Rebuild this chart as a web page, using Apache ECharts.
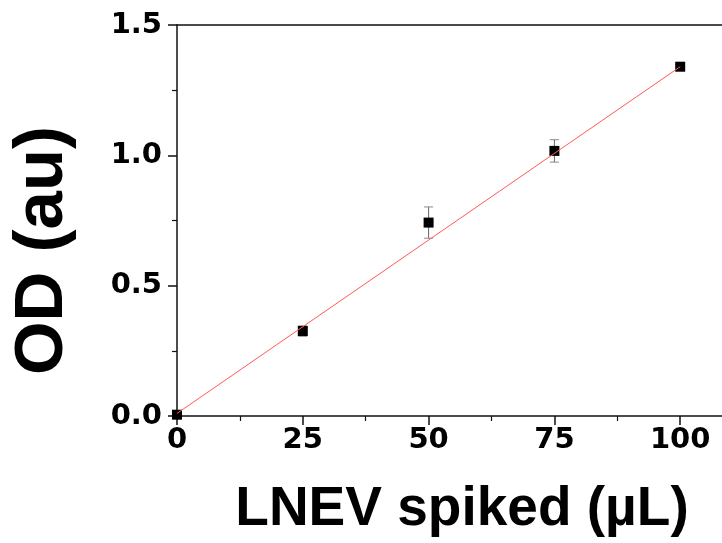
<!DOCTYPE html>
<html>
<head>
<meta charset="utf-8">
<script src="https://cdn.jsdelivr.net/npm/echarts@6/dist/echarts.min.js"></script>
<style>
  html, body { margin: 0; padding: 0; background: #fff; }
  #chart { width: 722px; height: 543px; }
</style>
</head>
<body>
<div id="chart"></div>
<script>
// spiked volume (uL) and measured OD
const volumes = [0, 25, 50, 75, 100]
const odMeans = [0.005, 0.326, 0.742, 1.017, 1.340]
const odErrors = [0, 0.02, 0.06, 0.043, 0.008]

// linear fit drawn across the data range
const fitX = [0, 100]
const fitY = [0.01, 1.34]

const xTitle = 'LNEV spiked (µL)'
const yTitle = 'OD (au)'

const chart = echarts.init(document.getElementById('chart'), null, { renderer: 'canvas' })

const axisColor = '#111'
const tickFont = {
  fontFamily: 'DejaVu Sans',
  fontWeight: 'bold',
  fontSize: 29,
  color: '#000'
}

// the frame runs past the right edge of the picture, up to 125
const option = {
  animation: false,
  backgroundColor: '#fff',
  grid: {
    left: 177,
    top: 25,
    bottom: 127,
    right: -84,
    outerBoundsMode: 'none',
    containLabel: false
  },
  xAxis: [
    {
      type: 'value',
      position: 'bottom',
      min: 0,
      max: 125,
      interval: 25,
      name: xTitle,
      nameLocation: 'middle',
      nameGap: 66,
      nameTextStyle: {
        fontFamily: 'Liberation Sans',
        fontWeight: 'bold',
        fontSize: 55,
        color: '#000',
        padding: [0, 59, 0, 0]
      },
      axisLine: { show: true, onZero: false, lineStyle: { color: axisColor, width: 1.5 } },
      axisTick: { show: true, inside: false, length: 9, lineStyle: { color: axisColor, width: 1.5 } },
      minorTick: { show: true, splitNumber: 2, length: 5, lineStyle: { color: axisColor, width: 1.2 } },
      splitLine: { show: false },
      axisLabel: { ...tickFont, margin: 10 }
    },
    {
      // top frame line
      type: 'value',
      position: 'top',
      min: 0,
      max: 125,
      axisLine: { show: true, onZero: false, lineStyle: { color: axisColor, width: 1.5 } },
      axisTick: { show: false },
      axisLabel: { show: false },
      splitLine: { show: false }
    }
  ],
  yAxis: {
    type: 'value',
    min: 0,
    max: 1.5,
    interval: 0.5,
    name: yTitle,
    nameLocation: 'middle',
    nameRotate: 90,
    nameGap: 100,
    nameTextStyle: {
      fontFamily: 'Liberation Sans',
      fontWeight: 'bold',
      fontSize: 69,
      color: '#000',
      padding: [0, 60, 0, 0]
    },
    axisLine: { show: true, onZero: false, lineStyle: { color: axisColor, width: 1.5 } },
    axisTick: { show: true, inside: false, length: 9, lineStyle: { color: axisColor, width: 1.5 } },
    minorTick: { show: true, splitNumber: 2, length: 5, lineStyle: { color: axisColor, width: 1.2 } },
    splitLine: { show: false },
    axisLabel: {
      ...tickFont,
      margin: 15,
      formatter: v => v.toFixed(1)
    }
  },
  series: [
    {
      name: 'error',
      type: 'custom',
      z: 2,
      data: volumes.map((x, i) => [x, odMeans[i] - odErrors[i], odMeans[i] + odErrors[i]]),
      renderItem: (params, api) => {
        const lo = api.coord([api.value(0), api.value(1)])
        const hi = api.coord([api.value(0), api.value(2)])
        const half = 4.5
        return {
          type: 'group',
          children: [
            { type: 'line', shape: { x1: lo[0], y1: lo[1], x2: hi[0], y2: hi[1] }, style: { stroke: '#666', lineWidth: 1 } },
            { type: 'line', shape: { x1: lo[0] - half, y1: lo[1], x2: lo[0] + half, y2: lo[1] }, style: { stroke: '#888', lineWidth: 1 } },
            { type: 'line', shape: { x1: hi[0] - half, y1: hi[1], x2: hi[0] + half, y2: hi[1] }, style: { stroke: '#888', lineWidth: 1 } }
          ]
        }
      }
    },
    {
      name: 'OD',
      type: 'scatter',
      z: 3,
      symbol: 'rect',
      symbolSize: 10,
      itemStyle: { color: '#000', opacity: 1 },
      data: volumes.map((x, i) => [x, odMeans[i]])
    },
    {
      name: 'fit',
      type: 'line',
      z: 4,
      showSymbol: false,
      lineStyle: { color: '#ff5a5a', width: 1 },
      data: fitX.map((x, i) => [x, fitY[i]])
    }
  ]
}

chart.setOption(option)
window.addEventListener('resize', () => chart.resize())
</script>
</body>
</html>
